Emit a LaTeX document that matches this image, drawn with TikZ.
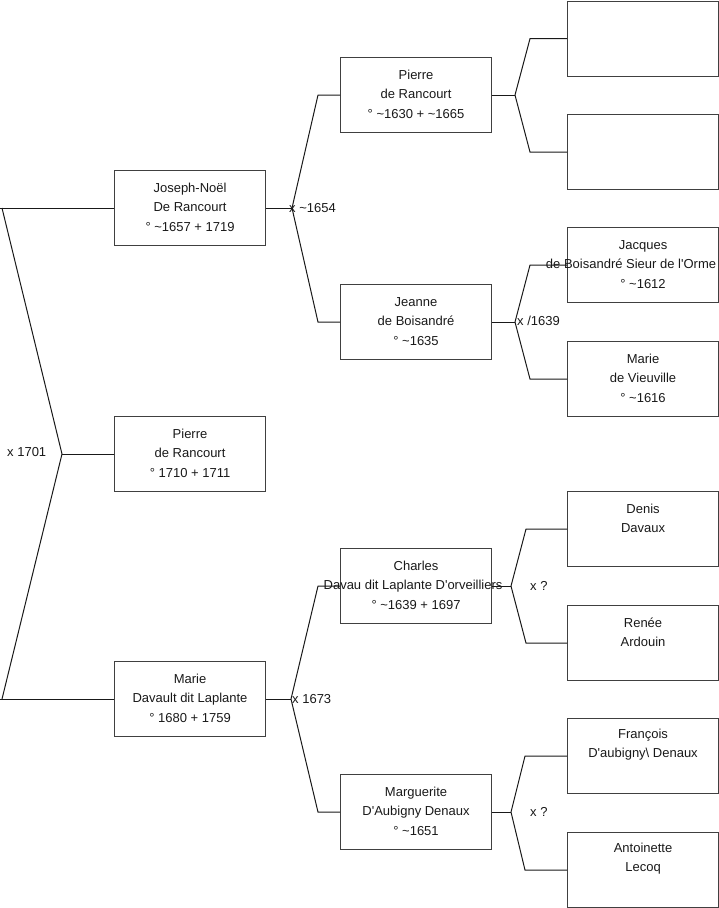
\documentclass[tikz,border=0pt]{standalone}
\usepackage{fontspec}
\newfontfamily\arial{Liberation Sans}
\begin{document}
\begin{tikzpicture}[x=1pt,y=-1pt,
  box/.style={draw=black!75, line width=1.1pt, minimum width=151pt, minimum height=75pt, inner sep=0pt, anchor=north west},
  txt/.style={anchor=north, align=center, inner sep=0pt, text=black!90, font=\arial\fontsize{13}{19.5}\selectfont},
  lbl/.style={anchor=west, inner sep=0pt, text=black!90, font=\arial\fontsize{13}{15}\selectfont},
  conn/.style={draw=black!90, line width=1pt, line join=miter}]
\useasboundingbox (0,0) rectangle (719,908);
% boxes column 1
\node[box] (jn) at (114,170) {};
\node[box] (pr) at (114,416) {};
\node[box] (md) at (114,661) {};
% column 2
\node[box] (pi) at (340,57) {};
\node[box] (je) at (340,284) {};
\node[box] (ch) at (340,548) {};
\node[box] (mg) at (340,774) {};
% column 3
\node[box] (e1) at (567,0.6) {};
\node[box] (e2) at (567,114) {};
\node[box] (ja) at (567,227) {};
\node[box] (mvi) at (567,341) {};
\node[box] (de) at (567,491) {};
\node[box] (re) at (567,605) {};
\node[box] (fr) at (567,718) {};
\node[box] (an) at (567,832) {};
% fork vertices
\coordinate (f1) at (62,454);
\coordinate (f2) at (292,208);
\coordinate (f3) at (515,95);
\coordinate (f4) at (515,321);
\coordinate (f5) at (291,699);
\coordinate (f6) at (511,586);
\coordinate (f7) at (511,812);
% fork corners (projected onto the box rows)
\coordinate (f1t) at (2,0 |- jn.west);
\coordinate (f1b) at (2,0 |- md.west);
\coordinate (f1tl) at (0,0 |- jn.west);
\coordinate (f1bl) at (0,0 |- md.west);
\coordinate (f2t) at (318,0 |- pi.west);
\coordinate (f2b) at (318,0 |- je.west);
\coordinate (f3t) at (530,0 |- e1.west);
\coordinate (f3b) at (530,0 |- e2.west);
\coordinate (f4t) at (530,0 |- ja.west);
\coordinate (f4b) at (530,0 |- mvi.west);
\coordinate (f5t) at (318,0 |- ch.west);
\coordinate (f5b) at (318,0 |- mg.west);
\coordinate (f6t) at (526,0 |- de.west);
\coordinate (f6b) at (526,0 |- re.west);
\coordinate (f7t) at (525,0 |- fr.west);
\coordinate (f7b) at (525,0 |- an.west);
% connectors
\draw[conn] (jn.west) -- (f1tl);
\draw[conn] (f1t) -- (f1) -- (f1b);
\draw[conn] (f1bl) -- (md.west);
\draw[conn] (f1) -- (f1 -| pr.west);
\draw[conn] (jn.east) -- (f2 |- jn.east);
\draw[conn] (f2 |- jn.east) -- (f2t) -- (pi.west);
\draw[conn] (f2 |- jn.east) -- (f2b) -- (je.west);
\draw[conn] (pi.east) -- (f3 |- pi.east);
\draw[conn] (f3 |- pi.east) -- (f3t) -- (e1.west);
\draw[conn] (f3 |- pi.east) -- (f3b) -- (e2.west);
\draw[conn] (je.east) -- (f4 |- je.east);
\draw[conn] (f4 |- je.east) -- (f4t) -- (ja.west);
\draw[conn] (f4 |- je.east) -- (f4b) -- (mvi.west);
\draw[conn] (md.east) -- (f5 |- md.east);
\draw[conn] (f5 |- md.east) -- (f5t) -- (ch.west);
\draw[conn] (f5 |- md.east) -- (f5b) -- (mg.west);
\draw[conn] (ch.east) -- (f6 |- ch.east);
\draw[conn] (f6 |- ch.east) -- (f6t) -- (de.west);
\draw[conn] (f6 |- ch.east) -- (f6b) -- (re.west);
\draw[conn] (mg.east) -- (f7 |- mg.east);
\draw[conn] (f7 |- mg.east) -- (f7t) -- (fr.west);
\draw[conn] (f7 |- mg.east) -- (f7b) -- (an.west);
% texts
\node[txt] (jnT) at ([yshift=-8.4pt]jn.north) {\strut Joseph-Noël\\De Rancourt\\° \textasciitilde1657 + 1719};
\node[txt] (prT) at ([yshift=-8.4pt]pr.north) {\strut Pierre\\de Rancourt\\° 1710 + 1711};
\node[txt] (mdT) at ([yshift=-8.4pt]md.north) {\strut Marie\\Davault dit Laplante\\° 1680 + 1759};
\node[txt] (piT) at ([yshift=-8.4pt]pi.north) {\strut Pierre\\de Rancourt\\° \textasciitilde1630 + \textasciitilde1665};
\node[txt] (jeT) at ([yshift=-8.4pt]je.north) {\strut Jeanne\\de Boisandré\\° \textasciitilde1635};
\node[txt] (chT) at ([yshift=-8.4pt]ch.north) {\strut Charles\\\kern-6pt Davau dit Laplante D'orveilliers\\° \textasciitilde1639 + 1697};
\node[txt] (mgT) at ([yshift=-8.4pt]mg.north) {\strut Marguerite\\D'Aubigny Denaux\\° \textasciitilde1651};
\node[txt] (jaT) at ([yshift=-8.4pt]ja.north) {\strut Jacques\\\kern-24pt de Boisandré Sieur de l'Orme\\° \textasciitilde1612};
\node[txt] (mviT) at ([yshift=-8.4pt]mvi.north) {\strut Marie\\de Vieuville\\° \textasciitilde1616};
\node[txt] (deT) at ([yshift=-8.4pt]de.north) {\strut Denis\\Davaux};
\node[txt] (reT) at ([yshift=-8.4pt]re.north) {\strut Renée\\Ardouin};
\node[txt] (frT) at ([yshift=-6.4pt]fr.north) {\strut François\\D'aubigny\textbackslash{} Denaux};
\node[txt] (anT) at ([yshift=-6.4pt]an.north) {\strut Antoinette\\Lecoq};
% marriage labels
\node[lbl] (l1) at (7,452) {x 1701};
\node[lbl] (l2) at (289,208) {x \textasciitilde1654};
\node[lbl] (l3) at (517,321) {x /1639};
\node[lbl] (l4) at (292,699) {x 1673};
\node[lbl] (l5) at (530,586) {x ?};
\node[lbl] (l6) at (530,812) {x ?};
\end{tikzpicture}
\end{document}
